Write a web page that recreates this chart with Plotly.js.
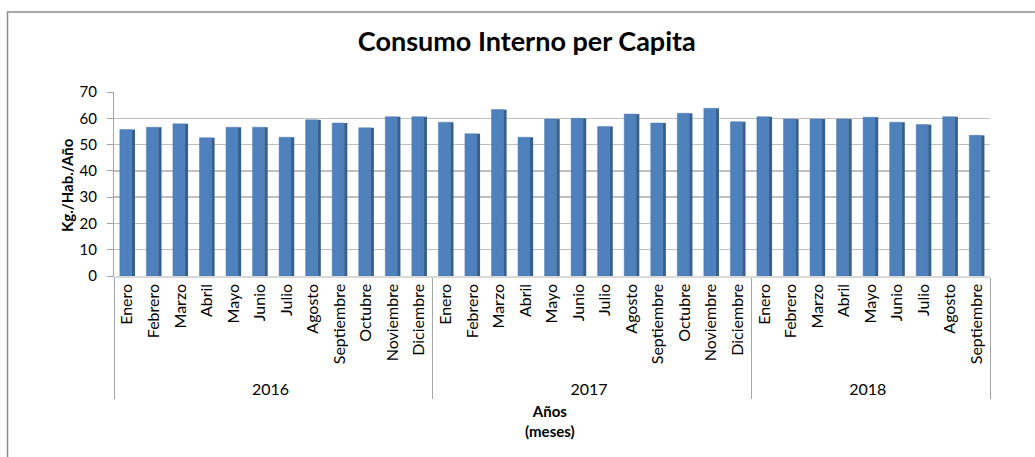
<!DOCTYPE html>
<html>
<head>
<meta charset="utf-8">
<script src="https://cdn.plot.ly/plotly-3.0.1.min.js"></script>
<style>html,body{margin:0;padding:0;background:#fff;}#chart{width:1035px;height:457px;}</style>
</head>
<body>
<div id="chart"></div>
<script>
const years = ["2016", "2017", "2018"];
const months2016 = ["Enero","Febrero","Marzo","Abril","Mayo","Junio","Julio","Agosto","Septiembre","Octubre","Noviembre","Diciembre"];
const months2017 = ["Enero","Febrero","Marzo","Abril","Mayo","Junio","Julio","Agosto","Septiembre","Octubre","Noviembre","Diciembre"];
const months2018 = ["Enero","Febrero","Marzo","Abril","Mayo","Junio","Julio","Agosto","Septiembre"];
const values2016 = [55.7, 56.6, 57.9, 52.6, 56.6, 56.6, 52.8, 59.4, 58.2, 56.4, 60.6, 60.6];
const values2017 = [58.5, 54.1, 63.3, 52.8, 59.7, 60.0, 56.9, 61.6, 58.2, 61.9, 63.8, 58.7];
const values2018 = [60.6, 59.7, 59.7, 59.7, 60.4, 58.5, 57.6, 60.6, 53.5];
const yTicks = [0, 10, 20, 30, 40, 50, 60, 70];

const monthGroups = [months2016, months2017, months2018];
const outer = [], inner = [];
monthGroups.forEach((ms, i) => ms.forEach(m => { outer.push(years[i]); inner.push(m); }));
const values = values2016.concat(values2017, values2018);

const font = "Lato, 'Open Sans', sans-serif";

const front = {
  type: "bar", x: [outer, inner], y: values,
  width: 0.45, offset: -0.28,
  marker: { color: "#4F81BD", line: { color: "#4A78B0", width: 0.5 } },
  hoverinfo: "y", showlegend: false
};
const side = {
  type: "bar", x: [outer, inner], y: values,
  width: 0.12, offset: 0.17,
  marker: { color: "#36608F", line: { width: 0 } },
  hoverinfo: "skip", showlegend: false
};

const layout = {
  width: 1035, height: 457,
  margin: { l: 114, r: 45, t: 92, b: 181 },
  paper_bgcolor: "#fff", plot_bgcolor: "#fff",
  barmode: "overlay",
  font: { family: font, color: "#000", size: 14 },
  xaxis: {
    type: "multicategory",
    tickangle: -90,
    tickfont: { family: font, size: 16, color: "#000" },
    showdividers: true, dividercolor: "#A6A6A6", dividerwidth: 1,
    showline: true, linecolor: "#D9D9D9", linewidth: 1.5,
    showgrid: false, ticks: ""
  },
  yaxis: {
    range: [0, 70], tickvals: yTicks, ticktext: yTicks.map(String),
    tickfont: { family: font, size: 15, color: "#000" },
    ticklabelstandoff: 7,
    showgrid: true, gridcolor: "#BFBFBF", gridwidth: 1.5,
    showline: true, linecolor: "#A6A6A6", linewidth: 1,
    ticks: "outside", ticklen: 6, tickcolor: "#A6A6A6",
    zeroline: false
  },
  title: { text: "<b>Consumo Interno per Capita</b>", x: 0.509, xanchor: "center", y: 0.908, yanchor: "middle",
           font: { family: font, size: 27, color: "#000" } },
  annotations: [
    { text: "<b>Kg./Hab./Año</b>", textangle: -90, xref: "paper", yref: "paper",
      x: (67 - 114) / 876, y: (276 - 185) / 184, xanchor: "center", yanchor: "middle",
      showarrow: false, font: { family: font, size: 15, color: "#000" } },
    { text: "<b>Años</b><br><b>(meses)</b>", xref: "paper", yref: "paper",
      x: (550 - 114) / 876, y: (276 - 421) / 184, xanchor: "center", yanchor: "middle",
      showarrow: false, font: { family: font, size: 15, color: "#000" } }
  ],
  shapes: [
    { type: "rect", xref: "paper", yref: "paper",
      x0: (7.5 - 114) / 876, x1: (1045 - 114) / 876,
      y0: (276 - 470) / 184, y1: (276 - 12) / 184,
      line: { color: "#8C8C8C", width: 1.5 }, fillcolor: "rgba(0,0,0,0)", layer: "below" }
  ]
};

Plotly.newPlot("chart", [front, side], layout, { displayModeBar: false, staticPlot: true });
</script>
</body>
</html>
